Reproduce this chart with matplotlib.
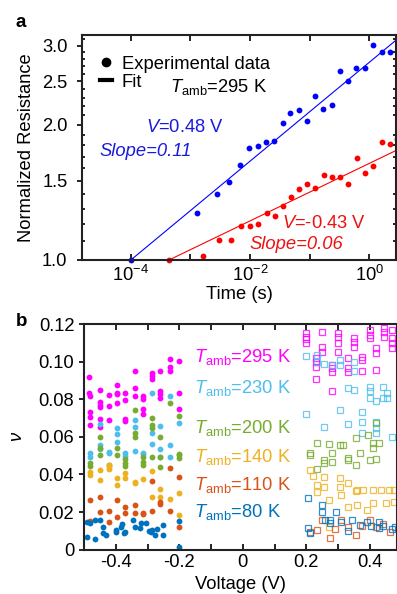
import numpy as np
import matplotlib
matplotlib.use('Agg')
import matplotlib.pyplot as plt
from matplotlib.lines import Line2D
from matplotlib.ticker import FixedLocator, NullFormatter

plt.rcParams['font.family'] = ['Liberation Sans', 'DejaVu Sans']
plt.rcParams['mathtext.fontset'] = 'custom'
plt.rcParams['mathtext.rm'] = 'Liberation Sans'
plt.rcParams['mathtext.it'] = 'Liberation Sans:italic'
plt.rcParams['font.size'] = 13.2

# ---- panel a: normalized resistance vs time ----
pos_time = [1.0e-4, 1.29e-3, 2.79e-3, 4.44e-3, 6.79e-3, 9.62e-3, 1.36e-2, 1.86e-2,
            2.53e-2, 3.59e-2, 4.70e-2, 6.67e-2, 9.08e-2, 0.124, 0.169, 0.239,
            0.326, 0.444, 0.605, 0.857, 1.17, 1.65, 2.25, 3.07]
pos_res = [1.00, 1.27, 1.40, 1.49, 1.63, 1.78, 1.79, 1.83,
           1.84, 2.02, 2.13, 2.16, 2.04, 2.32, 2.17, 2.21,
           2.64, 2.50, 2.68, 2.68, 3.01, 2.91, 2.91, 2.72]
neg_time = [4.37e-4, 1.62e-3, 3.01e-3, 4.80e-3, 7.06e-3, 1.0e-2, 1.36e-2, 1.93e-2,
            2.63e-2, 3.59e-2, 4.89e-2, 6.67e-2, 9.08e-2, 0.124, 0.175, 0.239,
            0.326, 0.444, 0.628, 0.857, 1.17, 1.65, 2.25, 2.95]
neg_res = [1.00, 1.02, 1.11, 1.11, 1.19, 1.19, 1.20, 1.27,
           1.25, 1.32, 1.38, 1.44, 1.48, 1.45, 1.55, 1.53,
           1.53, 1.48, 1.69, 1.56, 1.62, 1.83, 1.81, 1.86]
pos_volt, pos_slope = 0.48, 0.11
neg_volt, neg_slope = -0.43, 0.064

# ---- panel b: exponent nu vs voltage ----
temps = [295, 230, 200, 140, 110, 80]
colors = ['#ff00ff', '#4dbeee', '#77ac30', '#edb120', '#d95319', '#0072bd']

neg_v = {
    295: [-0.485, -0.485, -0.48, -0.48, -0.48, -0.48, -0.45, -0.45, -0.45, -0.45, -0.45, -0.45,
          -0.42, -0.42, -0.42, -0.395, -0.395, -0.395, -0.395, -0.37, -0.37, -0.37, -0.37,
          -0.34, -0.34, -0.34, -0.315, -0.315, -0.315, -0.315, -0.285, -0.285, -0.285,
          -0.26, -0.26, -0.26, -0.26, -0.23, -0.23, -0.23, -0.2, -0.2, -0.2],
    230: [-0.48, -0.48, -0.45, -0.45, -0.45, -0.42, -0.42, -0.395, -0.395, -0.395, -0.37, -0.37,
          -0.34, -0.34, -0.34, -0.315, -0.315, -0.285, -0.285, -0.285, -0.26, -0.26, -0.26,
          -0.23, -0.23, -0.23, -0.2],
    200: [-0.48, -0.48, -0.45, -0.45, -0.45, -0.42, -0.395, -0.395, -0.37, -0.37, -0.37,
          -0.34, -0.34, -0.34, -0.315, -0.315, -0.315, -0.285, -0.285, -0.285, -0.285,
          -0.26, -0.26, -0.26, -0.23, -0.2, -0.2, -0.2, -0.2],
    140: [-0.48, -0.48, -0.45, -0.45, -0.42, -0.42, -0.42, -0.395, -0.395, -0.37, -0.37,
          -0.34, -0.34, -0.315, -0.285, -0.285, -0.26, -0.26, -0.23, -0.2, -0.2],
    110: [-0.48, -0.48, -0.45, -0.45, -0.42, -0.42, -0.395, -0.395, -0.37, -0.37, -0.34, -0.34,
          -0.315, -0.315, -0.285, -0.285, -0.26, -0.26, -0.23, -0.23, -0.2, -0.2],
    80: [-0.49, -0.49, -0.48, -0.465, -0.465, -0.45, -0.44, -0.44, -0.43, -0.40, -0.40,
         -0.385, -0.38, -0.375, -0.37, -0.345, -0.34, -0.325, -0.32, -0.305, -0.295, -0.29,
         -0.285, -0.275, -0.27, -0.25, -0.25, -0.2, -0.2],
}
neg_nu = {
    295: [0.092, 0.0835, 0.0817, 0.0734, 0.0707, 0.0663, 0.0849, 0.0787, 0.0769, 0.0757, 0.0695, 0.065,
          0.0822, 0.0764, 0.069, 0.0876, 0.0835, 0.0828, 0.0781, 0.0831, 0.0796, 0.0695, 0.0684,
          0.0952, 0.0861, 0.0817, 0.0817, 0.08, 0.0748, 0.072, 0.0941, 0.0925, 0.0906,
          0.095, 0.0845, 0.0828, 0.0805, 0.1014, 0.0973, 0.0952, 0.1005, 0.0835, 0.0746],
    230: [0.0514, 0.0494, 0.0668, 0.0556, 0.0533, 0.0515, 0.052, 0.0645, 0.0615, 0.0574, 0.0515, 0.0498,
          0.069, 0.0654, 0.0526, 0.0512, 0.051, 0.0835, 0.0619, 0.056, 0.0657, 0.0533, 0.0494,
          0.0817, 0.0556, 0.0494, 0.0675],
    200: [0.0459, 0.0445, 0.06, 0.0539, 0.0503, 0.045, 0.0539, 0.0503, 0.048, 0.0459, 0.0445,
          0.0743, 0.0619, 0.06, 0.0494, 0.0468, 0.045, 0.0698, 0.0663, 0.0645, 0.0494,
          0.06, 0.0494, 0.0441, 0.0778, 0.071, 0.0508, 0.0503, 0.0486],
    140: [0.0414, 0.0397, 0.0423, 0.037, 0.045, 0.0438, 0.0427, 0.0379, 0.0344, 0.0409, 0.0379,
          0.0361, 0.0353, 0.0374, 0.0418, 0.0281, 0.0321, 0.0281, 0.0268, 0.030, 0.0184],
    110: [0.0264, 0.0154, 0.0281, 0.0202, 0.0205, 0.0148, 0.0264, 0.0175, 0.0225, 0.0196, 0.0237, 0.0193,
          0.0196, 0.0188, 0.0367, 0.0207, 0.0255, 0.0243, 0.0432, 0.0207, 0.0388, 0.0119],
    80: [0.0148, 0.0065, 0.0143, 0.0157, 0.0058, 0.0157, 0.0119, 0.0087, 0.0078, 0.0104, 0.0095,
         0.0119, 0.0136, 0.0087, 0.0095, 0.0157, 0.0122, 0.0117, 0.014, 0.014, 0.01, 0.0095,
         0.0104, 0.0078, 0.0108, 0.0131, 0.0078, 0.0154, 0.0012],
}

pos_v = {
    295: [0.2, 0.2, 0.2, 0.2, 0.23, 0.23, 0.23, 0.23, 0.25, 0.25, 0.25, 0.28, 0.28, 0.28, 0.28,
          0.3, 0.3, 0.3, 0.3, 0.33, 0.33, 0.33, 0.35, 0.35, 0.35, 0.375, 0.375, 0.375,
          0.4, 0.4, 0.4, 0.42, 0.42, 0.42, 0.445, 0.445, 0.445, 0.47, 0.47, 0.47, 0.47],
    230: [0.2, 0.2, 0.235, 0.235, 0.255, 0.255, 0.28, 0.305, 0.305, 0.305, 0.33, 0.33,
          0.35, 0.35, 0.35, 0.375, 0.375, 0.375, 0.4, 0.4, 0.4, 0.42, 0.42, 0.42, 0.42,
          0.44, 0.44, 0.455, 0.455, 0.47],
    200: [0.21, 0.21, 0.235, 0.235, 0.255, 0.255, 0.27, 0.28, 0.28, 0.305, 0.315, 0.33,
          0.33, 0.355, 0.355, 0.37, 0.395, 0.4, 0.41, 0.41, 0.42, 0.42, 0.43],
    140: [0.21, 0.22, 0.235, 0.235, 0.255, 0.255, 0.27, 0.27, 0.305, 0.305, 0.31, 0.33, 0.33,
          0.355, 0.36, 0.36, 0.38, 0.39, 0.41, 0.41, 0.435, 0.45, 0.46, 0.475, 0.475],
    110: [0.21, 0.235, 0.25, 0.275, 0.29, 0.31, 0.33, 0.355, 0.375, 0.4, 0.42, 0.44, 0.465],
    80: [0.205, 0.205, 0.21, 0.25, 0.25, 0.26, 0.275, 0.275, 0.295, 0.31, 0.33, 0.345, 0.37,
         0.39, 0.405, 0.43, 0.43, 0.44, 0.47, 0.48],
}
pos_nu = {
    295: [0.115, 0.113, 0.112, 0.110, 0.102, 0.1, 0.097, 0.091, 0.116, 0.108, 0.105, 0.098, 0.0966, 0.0945, 0.0843,
          0.115, 0.113, 0.110, 0.105, 0.102, 0.0966, 0.0945, 0.1125, 0.1104, 0.108, 0.1024, 0.1008, 0.095,
          0.1168, 0.114, 0.1125, 0.107, 0.1046, 0.0955, 0.1178, 0.1157, 0.113, 0.1168, 0.1125, 0.11, 0.107],
    230: [0.103, 0.0721, 0.1035, 0.0998, 0.0987, 0.0652, 0.098, 0.1008, 0.098, 0.0743, 0.086, 0.0668,
          0.0998, 0.095, 0.0849, 0.0732, 0.0679, 0.062, 0.0865, 0.0843, 0.0806, 0.079, 0.0679, 0.0647, 0.062,
          0.0865, 0.0806, 0.0833, 0.0806, 0.0599],
    200: [0.0514, 0.0503, 0.0567, 0.0429, 0.0476, 0.046, 0.0561, 0.0514, 0.0466, 0.0556, 0.0556, 0.0487,
          0.0476, 0.0594, 0.045, 0.0514, 0.061, 0.0476, 0.0567, 0.054, 0.0673, 0.0482, 0.0567],
    140: [0.0423, 0.039, 0.0344, 0.0306, 0.0386, 0.0333, 0.0264, 0.012, 0.038, 0.0333, 0.029, 0.0354, 0.0227,
          0.0311, 0.0317, 0.0237, 0.0317, 0.021, 0.0317, 0.0248, 0.0317, 0.0248, 0.0317, 0.0317, 0.0253],
    110: [0.0093, 0.0104, 0.0157, 0.0061, 0.011, 0.0157, 0.012, 0.0078, 0.0125, 0.0157, 0.012, 0.0135, 0.0095],
    80: [0.0274, 0.0115, 0.0088, 0.0237, 0.02, 0.0157, 0.0157, 0.014, 0.02, 0.0147, 0.0099, 0.0157, 0.013,
         0.0147, 0.0125, 0.0147, 0.0115, 0.0125, 0.011, 0.012],
}


def style_spines(axes):
    for s in axes.spines.values():
        s.set_linewidth(1.5)
        s.set_color('#222222')


fig = plt.figure(figsize=(3.97, 5.94), dpi=100)

# panel a
ax = fig.add_axes([0.2065, 0.5623, 0.791, 0.3788])
ax.set_xscale('log')
ax.set_yscale('log')
ax.plot(pos_time, pos_res, 'o', color='#0000ff', ms=4.2, mec='none', clip_on=False)
ax.plot(neg_time, neg_res, 'o', color='#ff0000', ms=4.2, mec='none', clip_on=False)
t_fit = np.logspace(np.log10(pos_time[0]), 0.6, 50)
ax.plot(t_fit, (t_fit / pos_time[0]) ** pos_slope, '-', color='#0000ff', lw=0.8)
t_fit = np.logspace(np.log10(neg_time[0]), 0.6, 50)
ax.plot(t_fit, (t_fit / neg_time[0]) ** neg_slope, '-', color='#ff0000', lw=0.8)

ax.set_xlim(10 ** -4.82, 10 ** 0.45)
ax.set_ylim(1.0, 3.17)
ax.xaxis.set_major_locator(FixedLocator([1e-4, 1e-3, 1e-2, 1e-1, 1e0]))
ax.xaxis.set_minor_locator(FixedLocator([]))
ax.set_xticklabels(['$10^{-4}$', '', '$10^{-2}$', '', '$10^{0}$'])
ax.yaxis.set_major_locator(FixedLocator([1.0, 1.5, 2.0, 2.5, 3.0]))
ax.yaxis.set_major_formatter(plt.FormatStrFormatter('%.1f'))
ax.yaxis.set_minor_locator(FixedLocator(np.arange(1.1, 3.2, 0.1)))
ax.yaxis.set_minor_formatter(NullFormatter())
ax.tick_params(which='both', direction='in', top=True, right=True, width=1.2)
ax.tick_params(which='major', length=4)
ax.tick_params(which='minor', length=2.5)
ax.tick_params(axis='y', which='major', direction='out', length=3.5, pad=7)
ax.set_xlabel('Time (s)', labelpad=1)
ax.set_ylabel('Normalized Resistance', labelpad=5)

handles = [Line2D([], [], marker='o', ls='none', color='k', ms=6),
           Line2D([], [], ls='-', color='k', lw=3)]
ax.legend(handles, ['Experimental data', 'Fit'], loc='upper left', frameon=False,
          handlelength=0.7, handletextpad=0.5, borderaxespad=0.3, labelspacing=0.05,
          bbox_to_anchor=(0.015, 0.965))
ax.text(0.28, 0.77, r'$T_{\rm amb}$=295 K', transform=ax.transAxes, color='k', va='center')
ax.text(0.205, 0.587, r'$V$=%.2f V' % pos_volt, transform=ax.transAxes, color='#1a1add',
        va='center')
ax.text(0.055, 0.48, 'Slope=%.2f' % pos_slope, transform=ax.transAxes, color='#1a1add',
        style='italic', va='center')
ax.text(0.637, 0.164, r'$V$=%.2f V' % neg_volt, transform=ax.transAxes, color='#ee1111',
        va='center')
ax.text(0.532, 0.071, 'Slope=%.2f' % neg_slope, transform=ax.transAxes, color='#ee1111',
        style='italic', va='center')
style_spines(ax)
fig.text(0.04, 0.955, 'a', fontweight='bold', fontsize=13.5)

# panel b
bx = fig.add_axes([0.2116, 0.0747, 0.788, 0.3798])
for T, c in zip(temps, colors):
    bx.plot(neg_v[T], neg_nu[T], 'o', color=c, ms=4.2, mec='none', clip_on=False)
    bx.plot(pos_v[T], pos_nu[T], 's', mfc='none', mec=c, ms=4.2, mew=0.9, alpha=0.8,
            clip_on=False)

bx.set_xlim(-0.5, 0.485)
bx.set_ylim(0, 0.12)
bx.xaxis.set_major_locator(FixedLocator([-0.4, -0.2, 0, 0.2, 0.4]))
bx.xaxis.set_major_formatter(plt.FuncFormatter(lambda v, p: '0' if abs(v) < 1e-9 else '%.1f' % v))
bx.xaxis.set_minor_locator(FixedLocator([-0.5, -0.3, -0.1, 0.1, 0.3]))
bx.yaxis.set_major_locator(FixedLocator([0, 0.02, 0.04, 0.06, 0.08, 0.10, 0.12]))
bx.yaxis.set_major_formatter(plt.FuncFormatter(lambda v, p: '0' if abs(v) < 1e-9 else '%.2f' % v))
bx.tick_params(which='both', direction='in', top=True, right=False, width=1.2, length=4)
bx.tick_params(axis='y', direction='out', length=3.5)
bx.set_xlabel('Voltage (V)', labelpad=3)
bx.set_ylabel(r'$\nu$', labelpad=9)
label_y = [0.853, 0.716, 0.539, 0.41, 0.286, 0.167]
for T, c, yy in zip(temps, colors, label_y):
    bx.text(0.352, yy, r'$T_{\rm amb}$=%d K' % T, transform=bx.transAxes, color=c, va='center')
style_spines(bx)
fig.text(0.04, 0.452, 'b', fontweight='bold', fontsize=13.5)

fig.savefig('out.png', dpi=100)
